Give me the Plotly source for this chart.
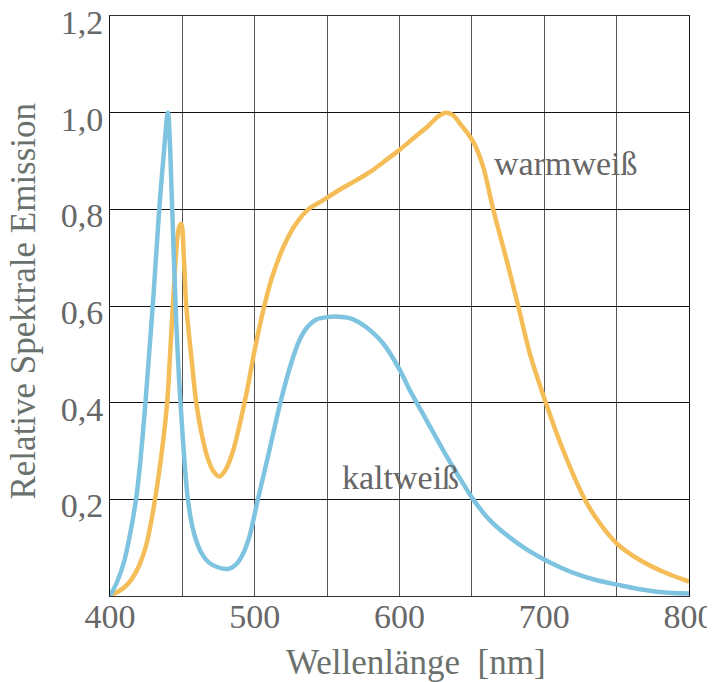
import plotly.graph_objects as go

# kaltweiß (cold white) spectrum
kalt_nm = [400, 405, 410, 414, 418, 421, 424.5, 427, 430, 434, 437, 440, 443, 445.3, 448.7, 453.8,
           458, 463, 468, 474, 481.5, 487, 492, 496.5, 501.8, 510, 517.7, 525, 531, 536, 542.6, 550,
           558, 565.6, 571, 577.1, 588.6, 600.2, 607.1, 618.6, 630.1, 639.4, 650.9, 662, 674, 687,
           700.6, 712, 724.6, 737, 751, 764, 777.7, 789, 800]
kalt_val = [0.0, 0.03, 0.074, 0.13, 0.2, 0.28, 0.4, 0.5, 0.62, 0.8, 0.91, 1.0, 0.8, 0.6, 0.4, 0.2,
            0.13, 0.09, 0.07, 0.06, 0.056, 0.065, 0.088, 0.125, 0.195, 0.3, 0.4, 0.48, 0.53, 0.555, 0.572, 0.577,
            0.578, 0.575, 0.568, 0.556, 0.523, 0.468, 0.426, 0.364, 0.302, 0.255, 0.2, 0.158, 0.126, 0.098,
            0.0745, 0.058, 0.043, 0.032, 0.023, 0.015, 0.009, 0.006, 0.005]

# warmweiß (warm white) spectrum
warm_nm = [400, 405, 410, 415, 420, 425, 430, 435, 439.5, 441.5, 443.4, 445, 446.5, 448, 449.3,
           451, 452.7, 456, 459.6, 463, 467, 471, 475.5, 480, 485, 490, 495, 500, 506.6, 512, 519.5, 528,
           537, 545, 551, 560, 570, 580, 589, 600, 610, 620, 627, 632, 637, 641.6, 650.9, 657.8, 664.7,
           674, 682, 690, 701.1, 713, 728, 738.5, 751, 766, 784.6, 800]
warm_val = [0.0, 0.008, 0.018, 0.035, 0.062, 0.105, 0.18, 0.28, 0.4, 0.5, 0.6, 0.68, 0.74, 0.765, 0.77,
            0.7, 0.6, 0.5, 0.4, 0.34, 0.29, 0.26, 0.247, 0.262, 0.3, 0.36, 0.43, 0.51, 0.6, 0.66, 0.72, 0.768,
            0.8, 0.815, 0.826, 0.843, 0.86, 0.878, 0.898, 0.923, 0.948, 0.973, 0.993, 1.0, 0.995, 0.978, 0.94, 0.888, 0.8,
            0.695, 0.6, 0.502, 0.4, 0.302, 0.2, 0.15, 0.106, 0.0745, 0.047, 0.03]

x_tickvals = [400, 450, 500, 550, 600, 650, 700, 750, 800]
x_ticktext = ["400", "", "500", "", "600", "", "700", "", "800"]
y_tickvals = [0, 0.2, 0.4, 0.6, 0.8, 1.0, 1.2]
y_ticktext = ["", "0,2", "0,4", "0,6", "0,8", "1,0", "1,2"]

FONT = "Liberation Serif"
LABEL = "#676767"
TITLE = "#6a716c"
BLUE = "#7ec4e1"
ORANGE = "#f4bd57"

fig = go.Figure()
fig.add_trace(go.Scatter(x=warm_nm, y=warm_val, mode="lines", name="warmweiß",
                         line=dict(color=ORANGE, width=4.5, shape="spline", smoothing=0.9),
                         showlegend=False))
fig.add_trace(go.Scatter(x=kalt_nm, y=kalt_val, mode="lines", name="kaltweiß",
                         line=dict(color=BLUE, width=4.5, shape="spline", smoothing=0.8),
                         showlegend=False))

fig.update_layout(
    width=707, height=674,
    margin=dict(l=102, r=26, t=8, b=86),
    paper_bgcolor="white", plot_bgcolor="white",
    font=dict(family=FONT, size=34, color=LABEL),
    xaxis=dict(range=[400, 800], tickvals=x_tickvals, ticktext=x_ticktext,
               showgrid=True, gridcolor="#555555", gridwidth=1,
               showline=True, linecolor="#333333", linewidth=1, mirror=True,
               zeroline=False, ticks="", ticklabelstandoff=-10, automargin=False,
               ticklabeloverflow="allow",
               tickfont=dict(family=FONT, size=34, color=LABEL)),
    yaxis=dict(range=[0, 1.2], tickvals=y_tickvals, ticktext=y_ticktext,
               showgrid=True, gridcolor="#111111", gridwidth=1,
               showline=True, linecolor="#111111", linewidth=1, mirror=True,
               zeroline=False, ticks="", ticklabelstandoff=-1, ticklabelshift=6,
               automargin=False, ticklabeloverflow="allow",
               tickfont=dict(family=FONT, size=34, color=LABEL)),
    annotations=[
        dict(text="warmweiß", x=664, y=0.894, xref="x", yref="y", xanchor="left", yanchor="middle",
             showarrow=False, font=dict(family=FONT, size=34, color="#666666")),
        dict(text="kaltweiß", x=559, y=0.246, xref="x", yref="y", xanchor="left", yanchor="middle",
             showarrow=False, font=dict(family=FONT, size=34, color="#666666")),
        dict(text="Wellenlänge\u00a0\u00a0[nm]", x=0.5285, y=-0.1155, xref="paper", yref="paper",
             xanchor="center", yanchor="middle", showarrow=False,
             font=dict(family=FONT, size=35, color=TITLE)),
        dict(text="Relative Spektrale Emission", x=-0.150, y=0.508, xref="paper", yref="paper",
             xanchor="center", yanchor="middle", textangle=-90, showarrow=False,
             font=dict(family=FONT, size=35, color=TITLE)),
    ],
)

fig.write_html("out.html")
